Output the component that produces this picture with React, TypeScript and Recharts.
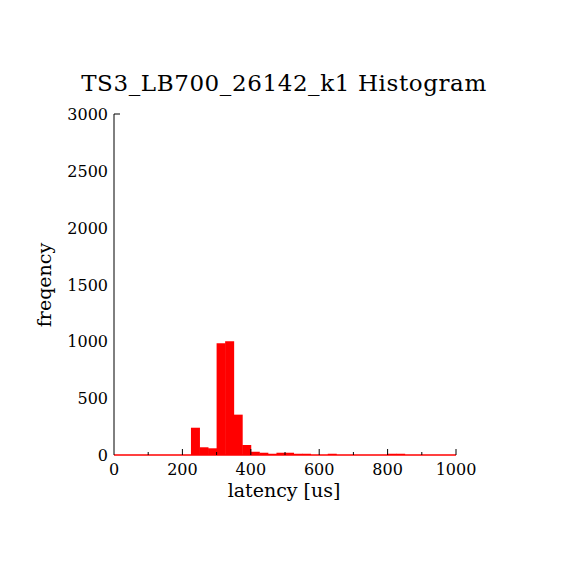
import React from 'react';
import { BarChart, Bar, XAxis, YAxis, ReferenceLine } from 'recharts';

const binCenters = [
  12.5, 37.5, 62.5, 87.5, 112.5, 137.5, 162.5, 187.5, 212.5, 237.5,
  262.5, 287.5, 312.5, 337.5, 362.5, 387.5, 412.5, 437.5, 462.5, 487.5,
  512.5, 537.5, 562.5, 587.5, 612.5, 637.5, 662.5, 687.5, 712.5, 737.5,
  762.5, 787.5, 812.5, 837.5, 862.5, 887.5, 912.5, 937.5, 962.5, 987.5,
];
const frequencies = [
  0, 0, 0, 0, 0, 0, 0, 0, 0, 240,
  68, 59, 983, 1000, 355, 88, 29, 20, 11, 20,
  20, 11, 11, 0, 0, 11, 0, 0, 0, 0,
  0, 0, 11, 11, 0, 0, 0, 0, 0, 0,
];
const xTicks = [0, 100, 200, 300, 400, 500, 600, 700, 800, 900, 1000];
const xLabelTicks = [0, 200, 400, 600, 800, 1000];
const yTicks = [0, 500, 1000, 1500, 2000, 2500, 3000];

const title = 'TS3_LB700_26142_k1 Histogram';
const xTitle = 'latency [us]';
const yTitle = 'freqency';

const data = binCenters.map((c, i) => ({ latency: c, freq: frequencies[i] }));

const FONT = '"DejaVu Serif", "Liberation Serif", serif';

const XTick = (props: any) => {
  const { x, y, payload } = props;
  const v = payload.value as number;
  const major = xLabelTicks.includes(v);
  return (
    <g>
      {v !== 0 && (
        <line x1={x} x2={x} y1={y} y2={y - (major ? 6 : 3)} stroke="#000" strokeWidth={1} />
      )}
      {major && (
        <text x={x} y={y + 20} textAnchor="middle" fontFamily={FONT} fontSize={16} fill="#000">
          {v}
        </text>
      )}
    </g>
  );
};

const YTick = (props: any) => {
  const { x, y, payload } = props;
  const v = payload.value as number;
  return (
    <g>
      {v === 3000 && <line x1={x} x2={x + 6} y1={y} y2={y} stroke="#000" strokeWidth={1} />}
      <text x={x - 6} y={y} dy={6} textAnchor="end" fontFamily={FONT} fontSize={16} fill="#000">
        {v}
      </text>
    </g>
  );
};

export default function App() {
  return (
    <div style={{ position: 'absolute', left: 0, top: 0, width: 570, height: 570, background: '#fff' }}>
      <BarChart
        width={570}
        height={570}
        data={data}
        margin={{ top: 114, right: 114, bottom: 85, left: 0 }}
        barCategoryGap={0}
        barGap={0}
      >
        <XAxis
          dataKey="latency"
          type="number"
          domain={[0, 1000]}
          ticks={xTicks}
          interval={0}
          axisLine={false}
          tickLine={false}
          tickSize={0}
          tickMargin={0}
          height={30}
          tick={<XTick />}
        />
        <YAxis
          type="number"
          domain={[0, 3000]}
          ticks={yTicks}
          interval={0}
          width={114}
          axisLine={{ stroke: '#000', strokeWidth: 1 }}
          tickLine={false}
          tickSize={0}
          tickMargin={0}
          tick={<YTick />}
        />
        <Bar dataKey="freq" fill="#ff0000" isAnimationActive={false} />
        <ReferenceLine y={0} stroke="#ff0000" strokeWidth={1.5} />
        <text x={284} y={91} textAnchor="middle" fontFamily={FONT} fontSize={23} letterSpacing={0.6} fill="#000">
          {title}
        </text>
        <text x={284} y={497} textAnchor="middle" fontFamily={FONT} fontSize={19} fill="#000">
          {xTitle}
        </text>
        <text
          x={51}
          y={285}
          textAnchor="middle"
          fontFamily={FONT}
          fontSize={19}
          fill="#000"
          transform="rotate(-90 51 285)"
        >
          {yTitle}
        </text>
      </BarChart>
    </div>
  );
}
